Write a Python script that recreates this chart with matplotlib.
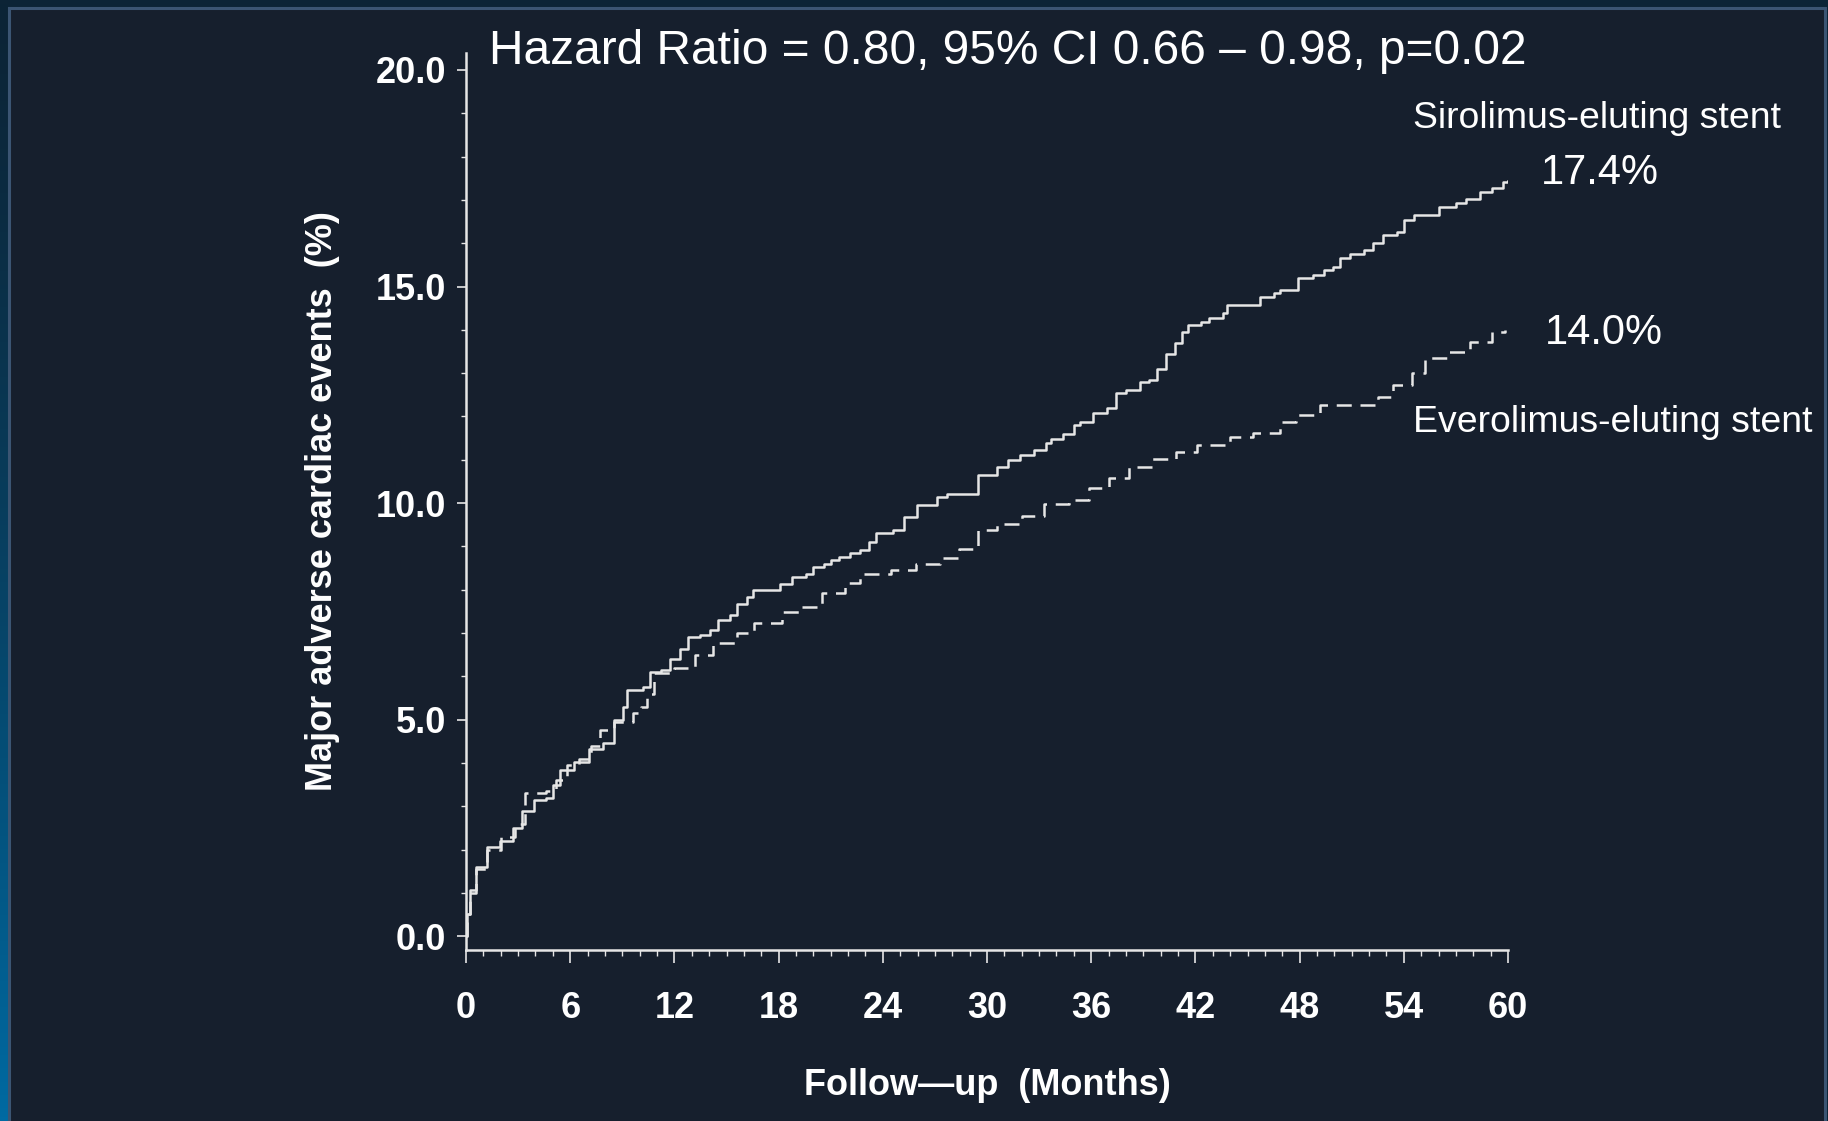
import numpy as np
import matplotlib
matplotlib.use('Agg')
import matplotlib.pyplot as plt
from matplotlib.patches import Rectangle
from matplotlib.ticker import MultipleLocator, FormatStrFormatter

plt.rcParams['font.family'] = ['Liberation Sans', 'DejaVu Sans']

# Sirolimus-eluting stent (solid), cumulative MACE %
ses_months = [0, 0.04, 0.23, 0.6, 1.2, 1.96, 2.7, 3.2, 3.9, 4.6, 5.0, 5.4, 6.2, 7.1, 7.9, 8.5,
              9.06, 9.25, 10.2, 10.6, 11.2, 11.75, 12.3, 12.8, 13.5, 14.05, 14.5, 15.2, 15.6,
              16.2, 16.5, 18.1, 18.8, 19.6, 20.0, 20.6, 21.0, 21.5, 22.1, 22.7, 23.2, 23.6,
              24.6, 25.2, 25.95, 27.1, 27.7, 29.5, 30.6, 31.2, 31.9, 32.7, 33.4, 33.7, 34.4,
              35.0, 35.35, 36.1, 36.9, 37.4, 38.0, 38.8, 39.3, 39.8, 40.3, 40.8, 41.2, 41.6,
              42.3, 42.8, 43.6, 43.8, 45.7, 46.5, 46.9, 47.9, 48.8, 49.4, 49.9, 50.3, 50.9,
              51.7, 52.2, 52.8, 53.6, 54.0, 54.6, 56.0, 57.0, 57.6, 58.4, 59.1, 59.7, 60.0]
ses_pct = [0, 0.52, 1.06, 1.6, 2.06, 2.2, 2.5, 2.9, 3.14, 3.19, 3.5, 3.83, 4.03, 4.33, 4.45, 4.99,
           5.3, 5.68, 5.76, 6.1, 6.14, 6.41, 6.64, 6.9, 6.95, 7.07, 7.3, 7.41, 7.68,
           7.84, 7.99, 8.14, 8.3, 8.37, 8.53, 8.59, 8.68, 8.75, 8.85, 8.91, 9.1, 9.3,
           9.38, 9.68, 9.95, 10.15, 10.22, 10.65, 10.84, 11.0, 11.1, 11.22, 11.38, 11.49, 11.6,
           11.8, 11.88, 12.07, 12.19, 12.53, 12.61, 12.8, 12.85, 13.1, 13.45, 13.7, 13.95, 14.1,
           14.19, 14.27, 14.38, 14.57, 14.76, 14.84, 14.92, 15.19, 15.27, 15.38, 15.46, 15.65, 15.76,
           15.84, 16.0, 16.19, 16.26, 16.54, 16.65, 16.84, 16.92, 17.03, 17.19, 17.27, 17.42, 17.44]

# Everolimus-eluting stent (dashed)
ees_months = [0, 0.05, 0.25, 0.6, 1.2, 2.0, 2.8, 3.4, 4.6, 5.2, 5.8, 6.5, 7.2, 7.7, 8.5, 9.6,
              10.1, 10.4, 10.8, 12.0, 13.2, 14.2, 15.6, 16.6, 18.2, 19.3, 20.5, 21.8, 22.7,
              24.5, 25.9, 27.3, 28.4, 29.5, 30.6, 32.0, 33.3, 34.7, 35.9, 37.0, 38.2, 39.5,
              40.9, 42.1, 44.0, 45.3, 46.9, 47.8, 49.2, 52.5, 53.4, 54.5, 55.2, 56.5, 57.8,
              59.1, 59.8]
ees_pct = [0, 0.5, 1.0, 1.55, 2.0, 2.3, 2.6, 3.3, 3.35, 3.6, 3.95, 4.1, 4.4, 4.75, 4.94, 5.15,
           5.3, 5.6, 6.07, 6.2, 6.5, 6.76, 7.0, 7.22, 7.48, 7.6, 7.92, 8.15, 8.37,
           8.45, 8.6, 8.74, 8.95, 9.37, 9.51, 9.71, 9.98, 10.07, 10.35, 10.57, 10.83, 11.02,
           11.18, 11.34, 11.53, 11.62, 11.88, 12.03, 12.26, 12.45, 12.72, 13.0, 13.34, 13.49, 13.72,
           13.96, 14.0]

x_ticks = [0, 6, 12, 18, 24, 30, 36, 42, 48, 54, 60]
y_ticks = [0, 5, 10, 15, 20]

W, H = 1828, 1121
fg = '#e6e6e6'
inner = '#161f2d'

fig = plt.figure(figsize=(W / 100, H / 100), dpi=100)
fig.patch.set_facecolor('#0c2436')

# background frame
bg = fig.add_axes([0, 0, 1, 1], zorder=-10)
bg.set_xlim(0, W)
bg.set_ylim(H, 0)
bg.axis('off')
grad = np.linspace(0, 1, 256).reshape(-1, 1)
c_top = np.array([0x0c, 0x24, 0x36]) / 255
c_bot = np.array([0x00, 0x6a, 0xa2]) / 255
img = (c_top + (c_bot - c_top) * grad[:, :, None] ** 1.3)
bg.imshow(img, extent=(0, 8, H, 0), aspect='auto')
bg.add_patch(Rectangle((9, 8), W - 12, H, facecolor=inner, edgecolor='#3b5573', linewidth=2.2))

ax = fig.add_axes([466 / W, 171 / H, 1042 / W, 0.8005])
ax.set_facecolor('none')

ax.step(ses_months, ses_pct, where='post', color=fg, linewidth=1.8)
ax.step(ees_months, ees_pct, where='post', color=fg, linewidth=1.8, linestyle=(0, (6, 3.5)))

ax.set_xlim(0, 60)
ax.set_ylim(-0.32, 20.4)
ax.set_xticks(x_ticks)
ax.set_yticks(y_ticks)
ax.xaxis.set_minor_locator(MultipleLocator(1))
ax.yaxis.set_minor_locator(MultipleLocator(1))
ax.yaxis.set_major_formatter(FormatStrFormatter('%.1f'))

for s in ['top', 'right']:
    ax.spines[s].set_visible(False)
for s in ['left', 'bottom']:
    ax.spines[s].set_color(fg)
    ax.spines[s].set_linewidth(1.8)

ax.tick_params(axis='x', which='major', length=9.5, width=1.2, color=fg, pad=20,
               labelsize=26, labelcolor='white')
ax.tick_params(axis='x', which='minor', length=4.5, width=1.0, color=fg)
ax.tick_params(axis='y', which='major', length=6.5, width=1.2, color=fg, pad=8,
               labelsize=26, labelcolor='white')
ax.tick_params(axis='y', which='minor', length=3.5, width=1.0, color=fg)
for lab in ax.get_xticklabels() + ax.get_yticklabels():
    lab.set_fontweight('bold')

ax.set_ylabel('Major adverse cardiac events  (%)', fontsize=26, fontweight='bold', color='white')
ax.yaxis.set_label_coords(-0.121, 0.5)
ax.set_xlabel('Follow\u2014up  (Months)', fontsize=26, fontweight='bold', color='white')
ax.xaxis.set_label_coords(0.5, -0.132)

fig.text(1008 / W, 1 - 51 / H, 'Hazard Ratio = 0.80, 95% CI 0.66 \u2013 0.98, p=0.02',
         fontsize=34.5, color='white', ha='center', va='center')
fig.text(1413 / W, 1 - 118 / H, 'Sirolimus-eluting stent', fontsize=26.9, color='white',
         ha='left', va='center')
fig.text(1541 / W, 1 - 173 / H, '17.4%', fontsize=30, color='white', ha='left', va='center')
fig.text(1545 / W, 1 - 333 / H, '14.0%', fontsize=30, color='white', ha='left', va='center')
fig.text(1413 / W, 1 - 422 / H, 'Everolimus-eluting stent', fontsize=26.9, color='white',
         ha='left', va='center')

fig.savefig('out.png', dpi=100, facecolor=fig.get_facecolor())
